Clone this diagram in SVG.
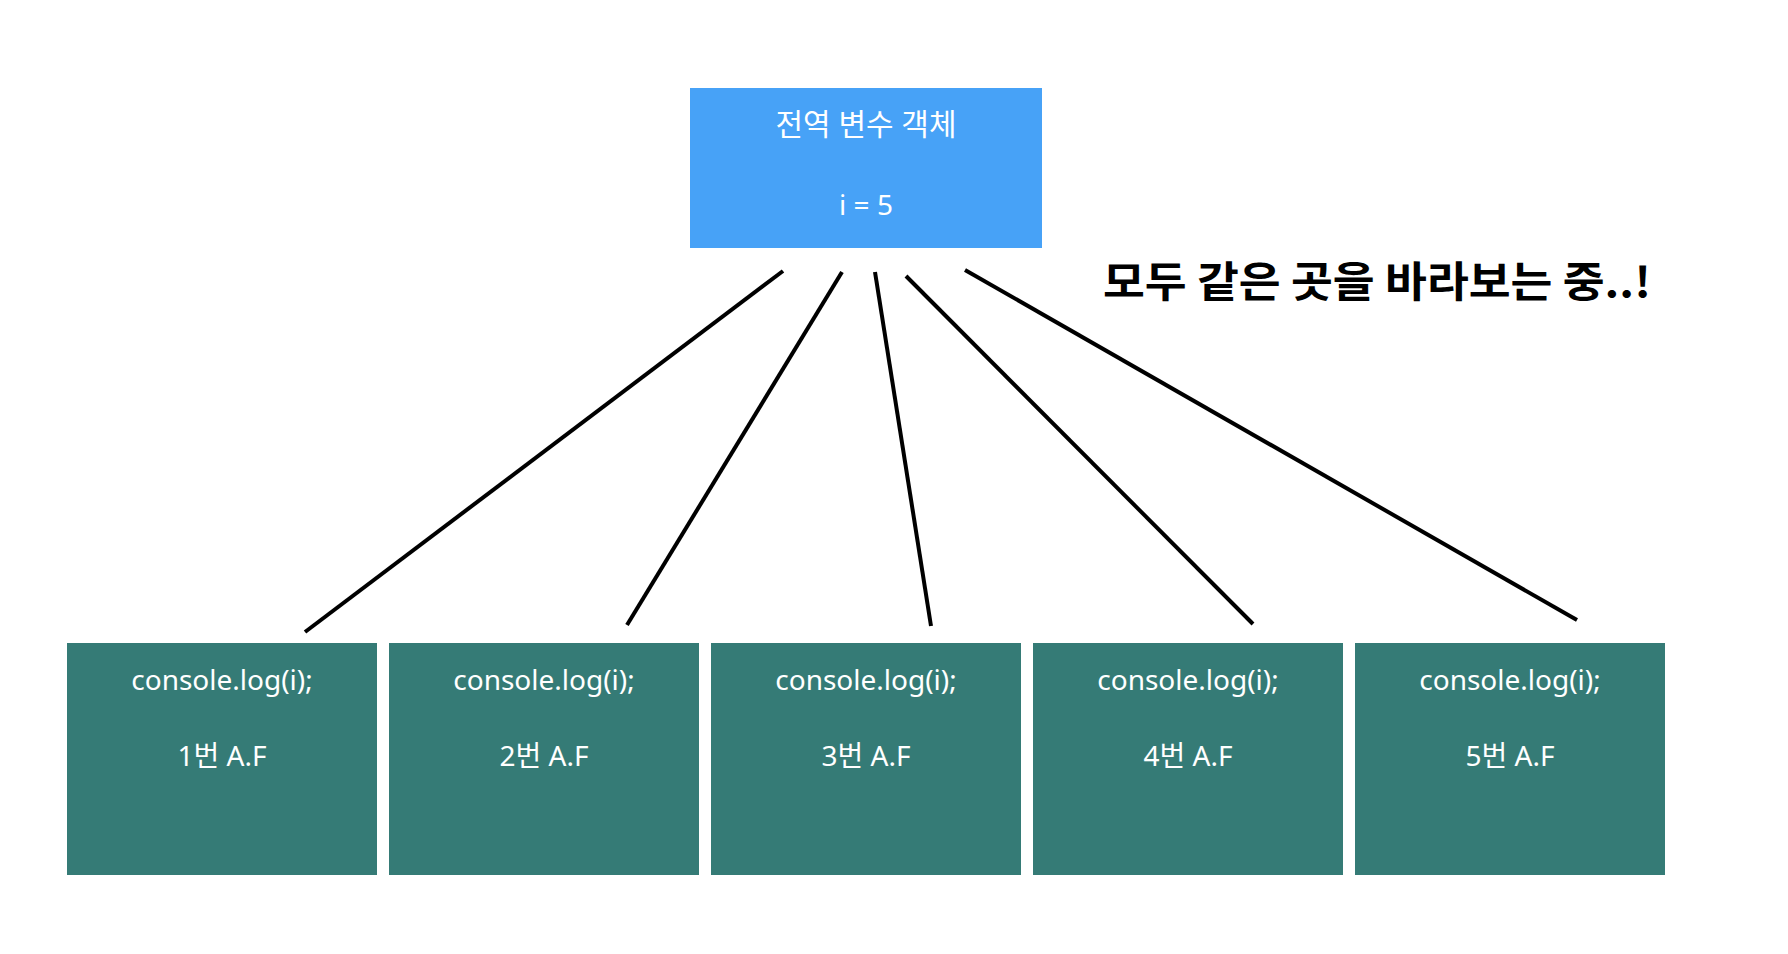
<svg xmlns="http://www.w3.org/2000/svg" width="1788" height="954" viewBox="0 0 1788 954">
<style>
.bg{fill:#ffffff}
.top{fill:#47a2f7}
.af{fill:#357b76}
.lbl{font-family:"Noto Sans","Noto Sans CJK KR",sans-serif;font-size:28px;fill:#ffffff;text-anchor:middle}
.note{font-family:"Noto Sans CJK KR","Noto Sans",sans-serif;font-size:42px;font-weight:bold;fill:#000000}
.conn line{stroke:#000000;stroke-width:4;stroke-linecap:butt}
</style>
<rect class="bg" x="0" y="0" width="1788" height="954"/>
<g id="global">
<rect class="top" x="690" y="88" width="352" height="160"/>
<text class="lbl" x="866" y="135" style="font-size:30px" textLength="181" lengthAdjust="spacingAndGlyphs">전역 변수 객체</text>
<text class="lbl" x="866" y="215">i = 5</text>
</g>
<g id="af1">
<rect class="af" x="67" y="643" width="310" height="232"/>
<text class="lbl" x="222" y="690">console.log(i);</text>
<text class="lbl" x="222" y="766">1번 A.F</text>
</g>
<g id="af2">
<rect class="af" x="389" y="643" width="310" height="232"/>
<text class="lbl" x="544" y="690">console.log(i);</text>
<text class="lbl" x="544" y="766">2번 A.F</text>
</g>
<g id="af3">
<rect class="af" x="711" y="643" width="310" height="232"/>
<text class="lbl" x="866" y="690">console.log(i);</text>
<text class="lbl" x="866" y="766">3번 A.F</text>
</g>
<g id="af4">
<rect class="af" x="1033" y="643" width="310" height="232"/>
<text class="lbl" x="1188" y="690">console.log(i);</text>
<text class="lbl" x="1188" y="766">4번 A.F</text>
</g>
<g id="af5">
<rect class="af" x="1355" y="643" width="310" height="232"/>
<text class="lbl" x="1510" y="690">console.log(i);</text>
<text class="lbl" x="1510" y="766">5번 A.F</text>
</g>
<g id="connectors" class="conn">
<line x1="783" y1="271" x2="305" y2="632"/>
<line x1="842" y1="272" x2="627" y2="625"/>
<line x1="875" y1="272" x2="931" y2="626"/>
<line x1="906" y1="276" x2="1253" y2="624"/>
<line x1="965" y1="270" x2="1577" y2="620"/>
</g>
<g id="note">
<text class="note" x="1103" y="297" textLength="548" lengthAdjust="spacingAndGlyphs">모두 같은 곳을 바라보는 중..!</text>
</g>
</svg>
